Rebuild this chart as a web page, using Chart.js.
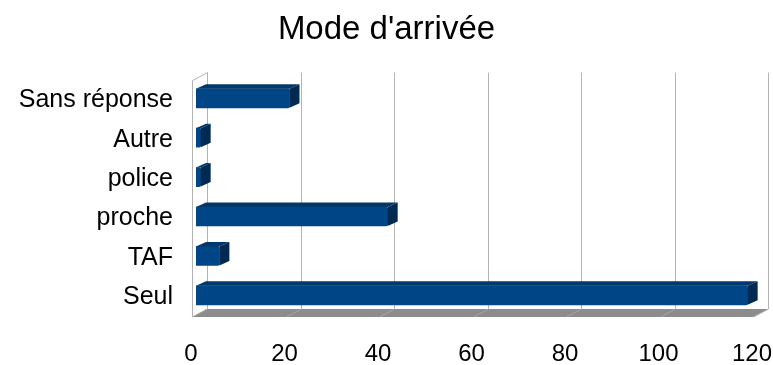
<!DOCTYPE html>
<html>
<head>
<meta charset="utf-8">
<script src="https://cdn.jsdelivr.net/npm/chart.js@4/dist/chart.umd.min.js"></script>
<style>
  html, body { margin: 0; padding: 0; background: #fff; }
  #wrap { width: 773px; height: 365px; }
</style>
</head>
<body>
<div id="wrap"><canvas id="chart"></canvas></div>
<script>
const categories = ["Sans réponse", "Autre", "police", "proche", "TAF", "Seul"];
const values = [20, 1, 1, 41, 5, 118];
const xTicks = [0, 20, 40, 60, 80, 100, 120];

// depth offsets for the fake 3D look
const wallDx = 11;
const barDx = 10, barDy = -4.5;

const pseudo3d = {
  id: "pseudo3d",
  beforeDatasetsDraw(chart) {
    const ctx = chart.ctx, xs = chart.scales.x, a = chart.chartArea;
    const floorFront = a.bottom + 2, floorBack = a.bottom - 6;
    const x0 = xs.getPixelForValue(0), x1 = xs.getPixelForValue(120);
    ctx.save();
    // floor
    ctx.fillStyle = "#8c8c8c";
    ctx.beginPath();
    ctx.moveTo(x0 - 4, floorFront);
    ctx.lineTo(x1 - 4, floorFront);
    ctx.lineTo(x1 + wallDx, floorBack);
    ctx.lineTo(x0 + wallDx, floorBack);
    ctx.closePath();
    ctx.fill();
    ctx.strokeStyle = "#a6a6a6";
    ctx.lineWidth = 1;
    xTicks.forEach((v) => {
      const px = Math.round(xs.getPixelForValue(v)) + 0.5;
      ctx.beginPath();
      ctx.moveTo(px + wallDx, floorBack);
      ctx.lineTo(px - 4, floorFront);
      ctx.stroke();
    });
    // back wall grid
    ctx.strokeStyle = "#b3b3b3";
    xTicks.forEach((v) => {
      const px = Math.round(xs.getPixelForValue(v)) + wallDx + 0.5;
      ctx.beginPath();
      ctx.moveTo(px, a.top - 6);
      ctx.lineTo(px, floorBack);
      ctx.stroke();
    });
    // left wall outline
    ctx.beginPath();
    ctx.moveTo(x0 - 3.5, floorFront);
    ctx.lineTo(x0 - 3.5, a.top + 2);
    ctx.lineTo(x0 + wallDx + 0.5, a.top - 6);
    ctx.stroke();
    ctx.restore();
  },
  afterDatasetsDraw(chart) {
    const ctx = chart.ctx;
    chart.getDatasetMeta(0).data.forEach((bar) => {
      const top = bar.y - bar.height / 2, bottom = bar.y + bar.height / 2;
      ctx.save();
      ctx.fillStyle = "#00386b";
      ctx.beginPath();
      ctx.moveTo(bar.base, top);
      ctx.lineTo(bar.base + barDx, top + barDy);
      ctx.lineTo(bar.x + barDx, top + barDy);
      ctx.lineTo(bar.x, top);
      ctx.closePath();
      ctx.fill();
      ctx.fillStyle = "#002a52";
      ctx.beginPath();
      ctx.moveTo(bar.x, top);
      ctx.lineTo(bar.x + barDx, top + barDy);
      ctx.lineTo(bar.x + barDx, bottom + barDy);
      ctx.lineTo(bar.x, bottom);
      ctx.closePath();
      ctx.fill();
      ctx.restore();
    });
  },
};

Chart.defaults.font.family = "'Liberation Sans', Arial, sans-serif";
Chart.defaults.color = "#000";

new Chart(document.getElementById("chart"), {
  type: "bar",
  data: {
    labels: categories,
    datasets: [{ data: values, backgroundColor: "#004586", barThickness: 19, borderRadius: 2 }],
  },
  options: {
    indexAxis: "y",
    responsive: true,
    maintainAspectRatio: false,
    animation: false,
    layout: { padding: { left: 16, right: 16, top: 10, bottom: 0 } },
    plugins: {
      legend: { display: false },
      tooltip: { enabled: false },
      title: {
        display: true,
        text: "Mode d'arrivée",
        font: { size: 33, weight: "normal" },
        color: "#000",
        padding: { top: 0, bottom: 29 },
      },
    },
    scales: {
      x: {
        min: 0,
        max: 120,
        ticks: { stepSize: 20, font: { size: 24 }, padding: 25, labelOffset: -5, color: "#000" },
        grid: { display: false, drawTicks: false },
        border: { display: false },
        afterFit: (s) => { s.height = 50; s.paddingLeft = 0; s.paddingRight = 0; },
      },
      y: {
        ticks: { font: { size: 25 }, padding: 23, labelOffset: 2, color: "#000" },
        grid: { display: false, drawTicks: false },
        border: { display: false },
        afterFit: (s) => { s.width = 180; },
      },
    },
  },
  plugins: [pseudo3d],
});
</script>
</body>
</html>
